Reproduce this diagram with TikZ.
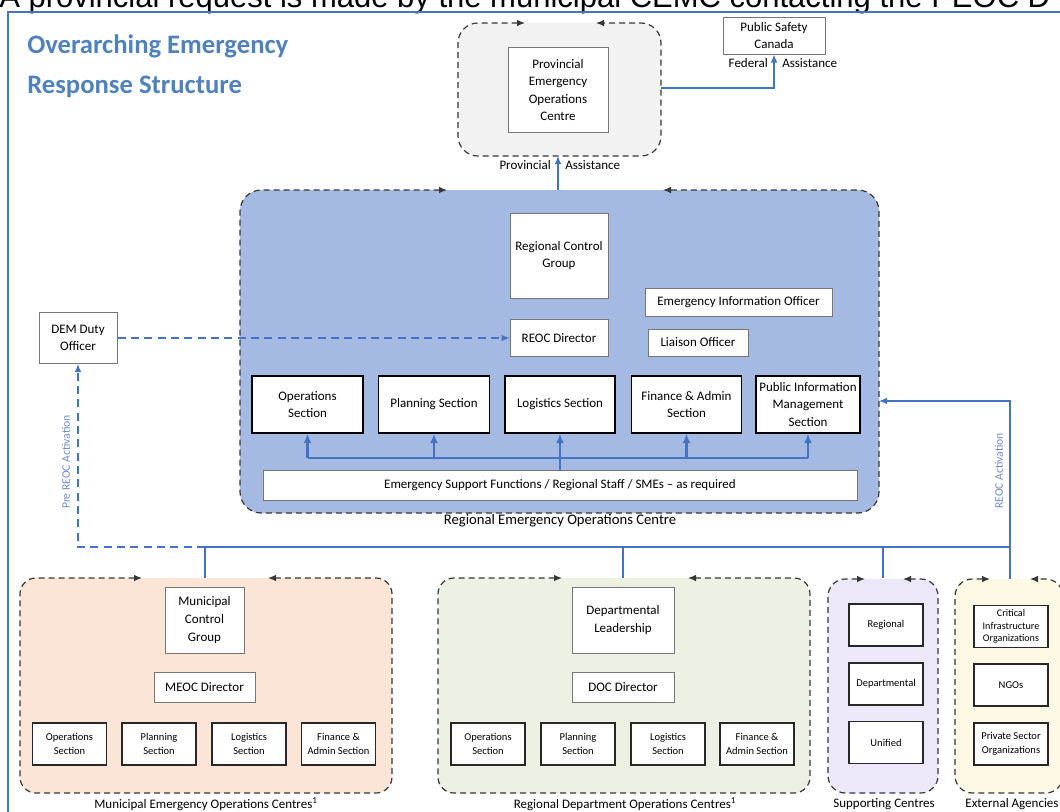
\documentclass[tikz,border=0pt]{standalone}
\usepackage{fontspec}
\setmainfont{Carlito}
\newfontfamily\arialfont{Liberation Sans}
\usetikzlibrary{arrows.meta}

\begin{document}
\begin{tikzpicture}[x=0.75pt,y=0.75pt,yscale=-1,xscale=1,
  wbox/.style={draw={rgb,255:red,118;green,118;blue,118}, fill=white, line width=0.75, align=center, inner sep=1pt, font=\fontsize{9.75}{13}\selectfont},
  sbox/.style={wbox, draw=black, line width=1.2, minimum height=42.75},
  tbox/.style={wbox, draw={rgb,255:red,40;green,40;blue,40}, line width=1, minimum width=55.5, minimum height=31.5, font=\fontsize{7.9}{10.3}\selectfont},
  edge/.style={draw={rgb,255:red,55;green,55;blue,55}, line width=0.9, dash pattern=on 4.5pt off 3pt, {Latex[length=6pt,width=5pt]}-{Latex[length=6pt,width=5pt]}},
  link/.style={draw={rgb,255:red,68;green,114;blue,196}, line width=0.9},
  secline/.style={draw={rgb,255:red,68;green,114;blue,196}, line width=1.6},
  lbl/.style={inner sep=0.75pt, font=\fontsize{9.75}{12}\selectfont},
  vlbl/.style={inner sep=0.75pt, rotate=90, text={rgb,255:red,110;green,140;blue,200}, font=\fontsize{8.7}{10}\selectfont}
]
\useasboundingbox (0,0) rectangle (1060,811);
\clip (0,0) rectangle (1060,811);

% Text Node
\node (cut) [anchor=base west, inner sep=0pt, font=\arialfont\fontsize{23.25}{26}\selectfont] at (-1,7) {A provincial request is made by the municipal CEMC contacting the PEOC D};
%Straight Lines
\draw [color={rgb, 255:red, 68; green, 114; blue, 196 }, line width=1.5] (1062,12) -- (8,12) -- (8,815);
% Text Node
\node (title) [anchor=north west, inner sep=0pt, align=left, text={rgb,255:red,79;green,129;blue,189}, font=\bfseries\fontsize{20}{30}\selectfont] at (27,35) {Overarching Emergency\\Response Structure};

%Shape: Rounded Rect
\fill [fill={rgb, 255:red, 242; green, 242; blue, 242 }, rounded corners=15] (458,23) rectangle (661,156);
\draw [edge, rounded corners=15] (525,23) -- (458,23) -- (458,156) -- (661,156) -- (661,23) -- (596,23);
%Shape: Rounded Rect
\fill [fill={rgb, 255:red, 164; green, 186; blue, 226 }, rounded corners=16] (240,190) rectangle (879,513);
\draw [edge, rounded corners=16] (447,190) -- (240,190) -- (240,513) -- (879,513) -- (879,190) -- (663,190);
%Shape: Rounded Rect
\fill [fill={rgb, 255:red, 251; green, 229; blue, 214 }, rounded corners=12] (20,578) rectangle (392,793);
\draw [edge, rounded corners=12] (142,578) -- (20,578) -- (20,793) -- (392,793) -- (392,578) -- (268,578);
%Shape: Rounded Rect
\fill [fill={rgb, 255:red, 236; green, 241; blue, 228 }, rounded corners=12] (438,578) rectangle (810,793);
\draw [edge, rounded corners=12] (562,578) -- (438,578) -- (438,793) -- (810,793) -- (810,578) -- (688,578);
%Shape: Rounded Rect
\fill [fill={rgb, 255:red, 236; green, 232; blue, 250 }, rounded corners=13] (828,579) rectangle (938,793);
\draw [edge, rounded corners=13] (865,579) -- (828,579) -- (828,793) -- (938,793) -- (938,579) -- (903,579);
%Shape: Rounded Rect
\fill [fill={rgb, 255:red, 254; green, 249; blue, 229 }, rounded corners=13] (955,579) rectangle (1063,793);
\draw [edge, rounded corners=13] (990,579) -- (955,579) -- (955,793) -- (1063,793) -- (1063,579) -- (1030,579);

% Provincial
\node (peoc) [wbox, minimum width=75, minimum height=63.75] at (558,90) {Provincial\\Emergency\\Operations\\Centre};
\node (psc) [wbox, minimum width=76.5, minimum height=27.75, font=\fontsize{9.75}{12.5}\selectfont] at (774,35.5) {Public Safety\\Canada};
\coordinate (pright) at (661,88);
\coordinate (pbot) at (558,156);
\coordinate (rtop) at (558,190);
\draw [link, -{Latex[length=6pt,width=5pt]}] (pright) -| (psc.south);
\draw [link, -{Latex[length=6pt,width=5pt]}] (rtop) -- (pbot);
\node (fedl) [lbl, anchor=east] at (769,63) {Federal};
\node (fedr) [lbl, anchor=west] at (781,63) {Assistance};
\node (provl) [lbl, anchor=east] at (552,165) {Provincial};
\node (provr) [lbl, anchor=west] at (564,165) {Assistance};

% REOC
\node (rcg) [wbox, minimum width=73.5, minimum height=63.75] at (559,255.5) {Regional Control\\Group};
\node (rdir) [wbox, minimum width=73.5, minimum height=27.75] at (559,338) {REOC Director};
\node (eio) [wbox, minimum width=140.25, minimum height=21] at (738.5,302) {Emergency Information Officer};
\node (liaison) [wbox, minimum width=75, minimum height=20.25] at (698,342.5) {Liaison Officer};
\node (ops) [sbox, minimum width=83.25] at (307.5,404.5) {Operations\\Section};
\node (plan) [sbox, minimum width=83.25] at (434,404.5) {Planning Section};
\node (logs) [sbox, minimum width=82.5] at (560,404.5) {Logistics Section};
\node (fin) [sbox, minimum width=82.5] at (686.5,404.5) {Finance \& Admin\\Section};
\node (pim) [sbox, minimum width=78] at (808,404.5) {Public Information\\Management\\Section};
\node (esf) [wbox, minimum width=445.5, minimum height=22.5] at (560,485) {Emergency Support Functions / Regional Staff / SMEs -- as required};
\node (reoclbl) [lbl, font=\fontsize{11}{13}\selectfont] at (560,521) {Regional Emergency Operations Centre};
\coordinate (bus) at (560,458);
\draw [secline] (ops.south |- bus) -- (pim.south |- bus);
\draw [secline] (esf.north) -- (bus);
\foreach \s in {ops,plan,logs,fin,pim}
  \draw [secline, -{Latex[length=7pt,width=6pt]}] (\s.south |- bus) -- (\s.south);

% DEM Duty Officer
\node (dem) [wbox, minimum width=58.5, minimum height=38.25] at (78,338) {DEM Duty\\Officer};
\draw [link, dash pattern=on 6pt off 4pt, -{Latex[length=6pt,width=5pt]}] (dem.east) -- (rdir.west);
\coordinate (jm) at (205,547);
\coordinate (jd) at (623,547);
\coordinate (js) at (883,547);
\coordinate (mtop) at (205,578);
\coordinate (dtop) at (623,578);
\coordinate (stop) at (883,578);
\coordinate (etop) at (1010,579);
\coordinate (rright) at (879,401);
\draw [link, dash pattern=on 6pt off 4pt, -{Latex[length=6pt,width=5pt]}] (jm) -| (dem.south);
\node (prelbl) [vlbl] at (66,462) {Pre REOC Activation};
\draw [link] (jm) -- (1010,547);
\draw [link] (jm) -- (mtop);
\draw [link] (jd) -- (dtop);
\draw [link] (js) -- (stop);
\draw [link, -{Latex[length=6pt,width=5pt]}] (etop) |- (rright);
\node (actlbl) [vlbl] at (999,471) {REOC Activation};

% Municipal
\node (mcg) [wbox, minimum width=59.25, minimum height=49.5, font=\fontsize{9.75}{13.5}\selectfont] at (204.5,620) {Municipal\\Control\\Group};
\node (mdir) [wbox, minimum width=75.75, minimum height=22.5] at (204.5,687) {MEOC Director};
\node (mops) [tbox] at (69.5,744) {Operations\\Section};
\node (mplan) [tbox] at (159,744) {Planning\\Section};
\node (mlogs) [tbox] at (249,744) {Logistics\\Section};
\node (mfin) [tbox] at (338.5,744) {Finance \&\\Admin Section};
\node (mlbl) [lbl] at (206,804) {Municipal Emergency Operations Centres\textsuperscript{1}};

% Departmental
\node (dl) [wbox, minimum width=76.5, minimum height=49.5, font=\fontsize{9.75}{13.5}\selectfont] at (623,620) {Departmental\\Leadership};
\node (ddir) [wbox, minimum width=76.5, minimum height=22.5] at (623,687) {DOC Director};
\node (dops) [tbox] at (488,744) {Operations\\Section};
\node (dplan) [tbox] at (578,744) {Planning\\Section};
\node (dlogs) [tbox] at (668,744) {Logistics\\Section};
\node (dfin) [tbox] at (757,744) {Finance \&\\Admin Section};
\node (dlbl) [lbl] at (625,804) {Regional Department Operations Centres\textsuperscript{1}};

% Supporting
\node (sreg) [tbox] at (886,625) {Regional};
\node (sdep) [tbox] at (886,684) {Departmental};
\node (suni) [tbox] at (886,742.5) {Unified};
\node (slbl) [lbl] at (884,804) {Supporting Centres};

% External
\node (crit) [tbox, font=\fontsize{7.6}{9.6}\selectfont] at (1011,626.5) {Critical\\Infrastructure\\Organizations};
\node (ngo) [tbox] at (1011,685) {NGOs};
\node (priv) [tbox] at (1011,744) {Private Sector\\Organizations};
\node (elbl) [lbl] at (1012,804) {External Agencies};

\end{tikzpicture}
\end{document}
